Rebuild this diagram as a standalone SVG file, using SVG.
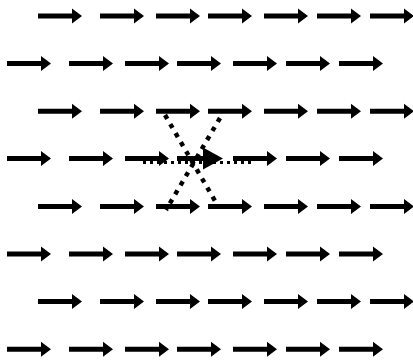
<svg xmlns="http://www.w3.org/2000/svg" xmlns:xlink="http://www.w3.org/1999/xlink" width="413" height="362" viewBox="0 0 413 362">
<style>
.dot{fill:none;stroke:#000;stroke-linecap:butt}
</style>
<defs>
<path id="a" d="M0,-2.5H34V-7.5L44,0L34,7.5V2.5H0Z" fill="#000"/>
</defs>
<rect width="413" height="362" fill="#fff"/>
<g id="row1" transform="translate(0,16)">
<use href="#a" x="38"/><use href="#a" x="100"/><use href="#a" x="156"/><use href="#a" x="208"/><use href="#a" x="264"/><use href="#a" x="317"/><use href="#a" x="370"/>
</g>
<g id="row2" transform="translate(0,63.6)">
<use href="#a" x="7"/><use href="#a" x="69"/><use href="#a" x="125"/><use href="#a" x="177"/><use href="#a" x="233"/><use href="#a" x="286"/><use href="#a" x="339"/>
</g>
<g id="row3" transform="translate(0,111.2)">
<use href="#a" x="38"/><use href="#a" x="100"/><use href="#a" x="156"/><use href="#a" x="208"/><use href="#a" x="264"/><use href="#a" x="317"/><use href="#a" x="370"/>
</g>
<g id="row4" transform="translate(0,158.5)">
<use href="#a" x="7"/><use href="#a" x="69"/><use href="#a" x="125"/>
<path d="M177,-2.5H203V-11L223,0L203,11V2.5H177Z" fill="#000"/>
<use href="#a" x="233"/><use href="#a" x="286"/><use href="#a" x="339"/>
</g>
<g id="row5" transform="translate(0,206.4)">
<use href="#a" x="38"/><use href="#a" x="100"/><use href="#a" x="156"/><use href="#a" x="208"/><use href="#a" x="264"/><use href="#a" x="317"/><use href="#a" x="370"/>
</g>
<g id="row6" transform="translate(0,254)">
<use href="#a" x="7"/><use href="#a" x="69"/><use href="#a" x="125"/><use href="#a" x="177"/><use href="#a" x="233"/><use href="#a" x="286"/><use href="#a" x="339"/>
</g>
<g id="row7" transform="translate(0,301.6)">
<use href="#a" x="38"/><use href="#a" x="100"/><use href="#a" x="156"/><use href="#a" x="208"/><use href="#a" x="264"/><use href="#a" x="317"/><use href="#a" x="370"/>
</g>
<g id="row8" transform="translate(0,349.2)">
<use href="#a" x="7"/><use href="#a" x="69"/><use href="#a" x="125"/><use href="#a" x="177"/><use href="#a" x="233"/><use href="#a" x="286"/><use href="#a" x="339"/>
</g>
<g id="connectors">
<path class="dot" d="M143,162.5H252" stroke-width="3" stroke-dasharray="3 4"/>
<path class="dot" d="M165,115L218,206" stroke-width="4.5" stroke-dasharray="4.5 6"/>
<path class="dot" d="M220,118L166,210" stroke-width="4.5" stroke-dasharray="4.5 6"/>
</g>
</svg>
